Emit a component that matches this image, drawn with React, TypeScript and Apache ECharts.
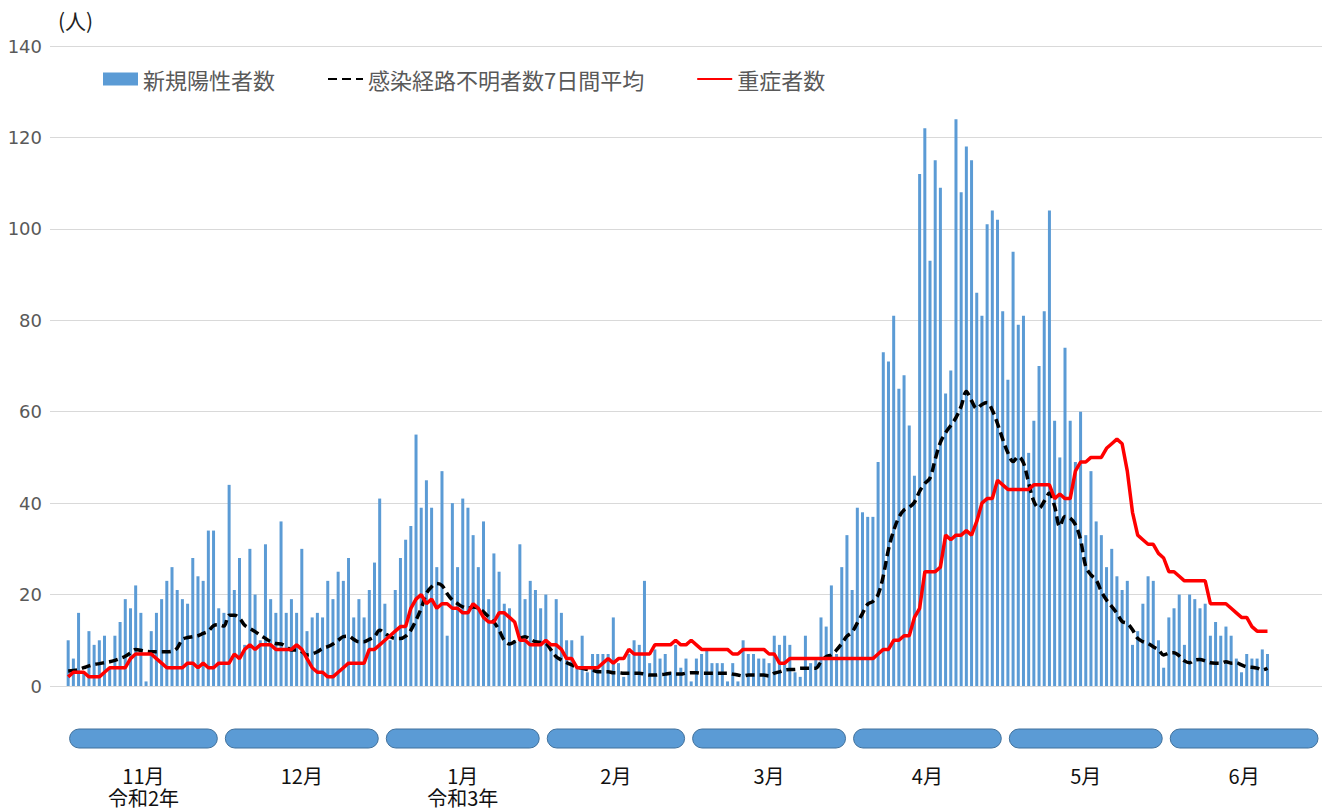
import React, { useEffect, useRef } from "react";
import * as echarts from "echarts";

// 新規陽性者数 (daily new cases), Nov 1 2020 – Jun 20 2021
const novBars = [10, 6, 16, 3, 12, 9, 10, 11, 4, 11, 14, 19, 17, 22, 16, 1, 12, 16, 19, 23, 26, 21, 19, 18, 28, 24, 23, 34, 34, 17];
const decBars = [16, 44, 21, 28, 9, 30, 20, 10, 31, 19, 16, 36, 16, 19, 16, 30, 12, 15, 16, 15, 23, 19, 25, 23, 28, 15, 19, 15, 21, 27, 41];
const janBars = [18, 10, 21, 28, 32, 35, 55, 39, 45, 39, 26, 47, 11, 40, 26, 41, 39, 33, 26, 36, 19, 29, 25, 18, 17, 10, 31, 19, 23, 21, 17];
const febBars = [20, 8, 19, 16, 10, 10, 4, 11, 3, 7, 7, 7, 7, 15, 5, 2, 7, 10, 9, 23, 5, 8, 6, 7, 3, 9, 4, 6];
const marBars = [1, 6, 7, 8, 5, 5, 5, 1, 5, 1, 10, 7, 7, 6, 6, 5, 11, 9, 11, 9, 3, 2, 11, 5, 6, 15, 13, 22, 7, 26, 33];
const aprBars = [21, 39, 38, 37, 37, 49, 73, 71, 81, 65, 68, 57, 46, 112, 122, 93, 115, 109, 64, 69, 124, 108, 118, 115, 86, 81, 101, 104, 102, 82];
const mayBars = [67, 95, 79, 81, 51, 58, 70, 82, 104, 58, 50, 74, 58, 49, 60, 33, 47, 36, 33, 26, 30, 24, 21, 23, 9, 12, 18, 24, 23, 10, 4];
const junBars = [15, 17, 20, 9, 20, 19, 17, 18, 11, 14, 11, 13, 11, 6, 3, 7, 6, 6, 8, 7];

// 感染経路不明者数7日間平均
const novBlack = [3.3, 3.4, 3.6, 4.0, 4.4, 4.7, 4.9, 5.1, 5.3, 5.6, 6.0, 6.5, 7.2, 8.0, 7.8, 7.6, 7.5, 7.5, 7.5, 7.5, 7.6, 8.3, 10.2, 10.6, 10.8, 11.0, 11.5, 12.0, 13.2, 13.4];
const decBlack = [13.1, 15.5, 15.5, 14.8, 13.3, 12.6, 11.9, 11.1, 10.4, 9.7, 9.3, 9.2, 8.6, 7.9, 7.9, 7.5, 6.8, 7.0, 7.5, 8.2, 8.6, 9.2, 10.0, 10.8, 10.9, 10.2, 9.7, 9.7, 10.2, 10.8, 12.2];
const janBlack = [11.5, 10.8, 10.4, 10.4, 10.9, 12.2, 14.4, 17.0, 20.2, 21.7, 22.4, 22.0, 20.2, 18.8, 18.0, 17.3, 17.0, 17.3, 17.0, 16.2, 15.1, 14.0, 12.2, 10.0, 9.2, 9.7, 10.4, 10.8, 10.2, 9.7, 9.5];
const febBlack = [9.3, 7.9, 6.4, 5.7, 5.1, 4.6, 4.1, 3.9, 3.6, 3.5, 3.1, 3.1, 3.1, 2.9, 2.9, 2.8, 2.8, 2.8, 2.8, 2.6, 2.4, 2.4, 2.5, 2.6, 2.8, 2.6, 2.6, 2.8];
const marBlack = [2.9, 2.9, 2.8, 2.8, 2.8, 2.8, 2.8, 2.8, 2.6, 2.4, 2.2, 2.4, 2.4, 2.4, 2.4, 2.2, 2.8, 3.1, 3.5, 3.6, 3.6, 3.9, 3.9, 3.9, 3.9, 5.3, 6.4, 6.8, 7.9, 9.3, 10.9];
const aprBlack = [11.8, 13.8, 15.9, 17.9, 18.5, 20.0, 24.1, 29.9, 34.0, 36.9, 38.5, 39.1, 40.2, 42.6, 44.3, 45.5, 49.6, 53.3, 55.4, 57.0, 58.7, 61.2, 64.4, 62.4, 60.7, 61.6, 62.0, 60.3, 57.4, 54.0];
const mayBlack = [51.0, 49.1, 50.2, 48.8, 44.4, 40.4, 38.9, 40.4, 42.2, 39.3, 34.9, 37.1, 36.7, 35.3, 32.0, 26.1, 24.3, 23.2, 20.7, 18.8, 17.4, 15.9, 14.1, 13.7, 12.3, 10.4, 9.7, 9.3, 8.6, 7.9, 6.8];
const junBlack = [7.2, 7.3, 6.6, 5.5, 5.1, 5.7, 5.8, 5.5, 5.1, 5.0, 5.0, 5.3, 5.0, 5.1, 4.6, 4.2, 4.1, 3.9, 3.5, 3.9];

// 重症者数
const novRed = [2, 3, 3, 3, 2, 2, 2, 3, 4, 4, 4, 4, 6, 7, 7, 7, 7, 6, 5, 4, 4, 4, 4, 5, 5, 4, 5, 4, 4, 5];
const decRed = [5, 5, 7, 6, 8, 9, 8, 9, 9, 9, 8, 8, 8, 8, 9, 8, 6, 4, 3, 3, 2, 2, 3, 4, 5, 5, 5, 5, 8, 8, 9];
const janRed = [10, 11, 12, 13, 13, 17, 19, 20, 18, 19, 17, 18, 18, 17, 17, 16, 16, 18, 17, 15, 14, 14, 16, 16, 15, 14, 10, 10, 9, 9, 9];
const febRed = [10, 9, 9, 8, 6, 6, 4, 4, 4, 4, 4, 5, 6, 5, 6, 6, 8, 7, 7, 7, 7, 9, 9, 9, 9, 10, 9, 9];
const marRed = [10, 9, 8, 8, 8, 8, 8, 8, 7, 7, 8, 8, 8, 8, 8, 7, 7, 5, 5, 6, 6, 6, 6, 6, 6, 6, 6, 6, 6, 6, 6];
const aprRed = [6, 6, 6, 6, 6, 7, 8, 8, 10, 10, 11, 11, 15, 17, 25, 25, 25, 26, 33, 32, 33, 33, 34, 33, 36, 40, 41, 41, 45, 44];
const mayRed = [43, 43, 43, 43, 43, 44, 44, 44, 44, 41, 42, 41, 41, 47, 49, 49, 50, 50, 50, 52, 53, 54, 53, 47, 38, 33, 32, 31, 31, 29, 28];
const junRed = [25, 25, 24, 23, 23, 23, 23, 23, 18, 18, 18, 18, 17, 16, 15, 15, 13, 12, 12, 12];

// month axis
const monthLabels = ["11月", "12月", "1月", "2月", "3月", "4月", "5月", "6月"];
const eraLabels = ["令和2年", "", "令和3年", "", "", "", "", ""];
const monthDays = [30, 31, 31, 28, 31, 30, 31, 30];
const yTickMax = 140;
const yTickStep = 20;

const seriesNames = ["新規陽性者数", "感染経路不明者数7日間平均", "重症者数"];

const bars = [...novBars, ...decBars, ...janBars, ...febBars, ...marBars, ...aprBars, ...mayBars, ...junBars];
const black = [...novBlack, ...decBlack, ...janBlack, ...febBlack, ...marBlack, ...aprBlack, ...mayBlack, ...junBlack];
const red = [...novRed, ...decRed, ...janRed, ...febRed, ...marRed, ...aprRed, ...mayRed, ...junRed];

const totalDays = monthDays.reduce((a, b) => a + b, 0);
let acc = 0;
const monthRanges = monthDays.map((d) => {
  const r = [acc, acc + d - 1, 0];
  acc += d;
  return r;
});

const CJK = "'Noto Sans CJK JP', 'Noto Sans', sans-serif";

export default function App() {
  const ref = useRef<HTMLDivElement>(null);

  useEffect(() => {
    if (!ref.current) return;
    const chart = echarts.init(ref.current, null, { renderer: "svg" });
    const option: any = {
      animation: false,
      backgroundColor: "#ffffff",
      grid: { left: 50, right: 3, top: 46, bottom: 124, containLabel: false },
      legend: {
        data: [
          { name: seriesNames[0], icon: "rect" },
          { name: seriesNames[1], itemStyle: { opacity: 0 } },
          { name: seriesNames[2], itemStyle: { opacity: 0 } },
        ],
        left: 98,
        top: 63,
        itemWidth: 35,
        itemHeight: 13,
        itemGap: 52,
        textStyle: { fontFamily: CJK, fontSize: 22, color: "#595959", lineHeight: 22 },
      },
      graphic: [
        {
          type: "text",
          left: 58,
          top: 9,
          style: { text: "(人)", fontFamily: CJK, fontSize: 21, fill: "#222" },
        },
      ],
      xAxis: {
        type: "value",
        min: -3.5,
        max: totalDays - 0.5,
        show: false,
        splitLine: { show: false },
      },
      yAxis: {
        type: "value",
        min: 0,
        max: yTickMax,
        interval: yTickStep,
        axisLine: { show: false },
        axisTick: { show: false },
        axisLabel: {
          margin: 8,
          fontFamily: "'DejaVu Sans', Verdana, sans-serif",
          fontSize: 18,
          color: "#595959",
        },
        splitLine: { lineStyle: { color: "#D9D9D9", width: 1 } },
      },
      series: [
        {
          name: seriesNames[0],
          type: "bar",
          barWidth: 3,
          itemStyle: { color: "#5B9BD5" },
          data: bars.map((v, i) => [i, v]),
        },
        {
          name: seriesNames[1],
          type: "line",
          symbol: "none",
          smooth: 0.35,
          itemStyle: { color: "#000000" },
          lineStyle: { color: "#000000", width: 3.5, type: [9, 5] },
          data: black.map((v, i) => [i, v]),
        },
        {
          name: seriesNames[2],
          type: "line",
          symbol: "none",
          itemStyle: { color: "#FF0000" },
          lineStyle: { color: "#FF0000", width: 3.5 },
          data: red.map((v, i) => [i, v]),
        },
        {
          type: "custom",
          silent: true,
          clip: false,
          encode: { x: [0, 1], y: 2 },
          data: monthRanges,
          renderItem: (params: any, api: any) => {
            const s = api.coord([api.value(0), 0]);
            const e = api.coord([api.value(1), 0]);
            const w = api.size([1, 0])[0];
            const x0 = s[0] - w / 2 + 4;
            const x1 = e[0] + w / 2 - 4;
            const y0 = s[1] + 43;
            const cx = (x0 + x1) / 2;
            const i = params.dataIndex;
            const label = eraLabels[i] ? monthLabels[i] + "\n" + eraLabels[i] : monthLabels[i];
            const children: any[] = [
              {
                type: "rect",
                shape: { x: x0, y: y0, width: x1 - x0, height: 19, r: 9.5 },
                style: { fill: "#5B9BD5", stroke: "#41719C", lineWidth: 1 },
              },
              {
                type: "text",
                style: {
                  text: label,
                  x: cx,
                  y: s[1] + 78,
                  align: "center",
                  verticalAlign: "top",
                  textAlign: "center",
                  textVerticalAlign: "top",
                  fill: "#111",
                  fontSize: 20,
                  lineHeight: 22,
                  fontFamily: CJK,
                },
              },
            ];
            return { type: "group", children };
          },
        },
      ],
    };
    chart.setOption(option);
    return () => {
      chart.dispose();
    };
  }, []);

  return (
    <div
      ref={ref}
      style={{ position: "fixed", left: 0, top: 0, width: 1325, height: 810, background: "#fff" }}
    />
  );
}
